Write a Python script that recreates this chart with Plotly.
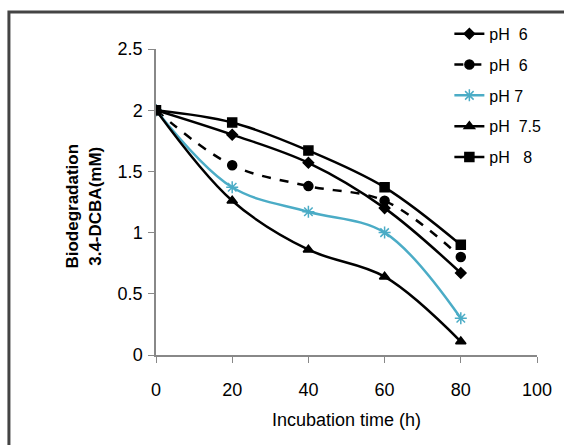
import plotly.graph_objects as go

hours = [0, 20, 40, 60, 80]
series_names = ["pH  6", "pH  6", "pH 7", "pH  7.5", "pH   8"]
ph6_a = [2.0, 1.80, 1.57, 1.20, 0.67]
ph6_b = [2.0, 1.55, 1.38, 1.26, 0.80]
ph7 = [2.0, 1.37, 1.17, 1.00, 0.30]
ph75 = [2.0, 1.26, 0.86, 0.64, 0.11]
ph8 = [2.0, 1.90, 1.67, 1.37, 0.90]

x_ticks = [0, 20, 40, 60, 80, 100]
y_ticks = [0, 0.5, 1, 1.5, 2, 2.5]

styles = [
    dict(color="black", dash="solid", symbol="diamond", size=8),
    dict(color="black", dash="dash", symbol="circle", size=9),
    dict(color="#4BACC6", dash="solid", symbol="asterisk-open", size=10),
    dict(color="black", dash="solid", symbol="triangle-up", size=9),
    dict(color="black", dash="solid", symbol="square", size=9),
]

fig = go.Figure()
for i, (name, vals, st) in enumerate(zip(series_names, [ph6_a, ph6_b, ph7, ph75, ph8], styles)):
    fig.add_trace(go.Scatter(
        x=hours, y=vals, name=name, mode="lines+markers",
        legendgroup=f"g{i}",
        line=dict(color=st["color"], width=2.5, dash=st["dash"], shape="spline", smoothing=1.0),
        marker=dict(symbol=st["symbol"], size=st["size"], color=st["color"],
                    line=dict(color=st["color"], width=1.5)),
    ))

fnt = "Liberation Sans, Arial, sans-serif"

fig.update_layout(
    width=564, height=445,
    margin=dict(l=156, r=27, t=49, b=90),
    paper_bgcolor="white", plot_bgcolor="white",
    font=dict(family=fnt, size=17, color="black"),
    showlegend=True,
    legend=dict(x=0.77, y=1.105, xanchor="left", yanchor="top",
                font=dict(family=fnt, size=16, color="black"),
                bgcolor="rgba(0,0,0,0)", tracegroupgap=7, itemwidth=30),
    xaxis=dict(range=[0, 100], tickvals=x_ticks, showgrid=False, zeroline=False,
               showline=True, linecolor="#888", linewidth=1.5,
               ticks="outside", ticklen=6, tickcolor="#888",
               ticklabelstandoff=12,
               tickfont=dict(family=fnt, size=18)),
    yaxis=dict(range=[0, 2.5], tickvals=y_ticks, showgrid=False, zeroline=False,
               showline=True, linecolor="#888", linewidth=1.5,
               ticks="outside", ticklen=6, tickcolor="#888",
               ticklabelstandoff=2,
               tickfont=dict(family=fnt, size=18)),
    annotations=[
        dict(text="Incubation time (h)", xref="paper", yref="paper", x=0.5, y=0,
             yshift=-65, showarrow=False, xanchor="center", yanchor="middle",
             font=dict(family=fnt, size=18)),
        dict(text="<b>Biodegradation<br>3.4-DCBA(mM)</b>", xref="paper", yref="paper",
             x=0, xshift=-72, y=0.485, textangle=-90, showarrow=False,
             xanchor="center", yanchor="middle",
             font=dict(family=fnt, size=17)),
    ],
    shapes=[dict(type="rect", xref="paper", yref="paper",
                 x0=-0.386, x1=1.2, y0=-0.4, y1=1.121,
                 line=dict(color="#444", width=3))],
)

fig.write_html("out.html")
